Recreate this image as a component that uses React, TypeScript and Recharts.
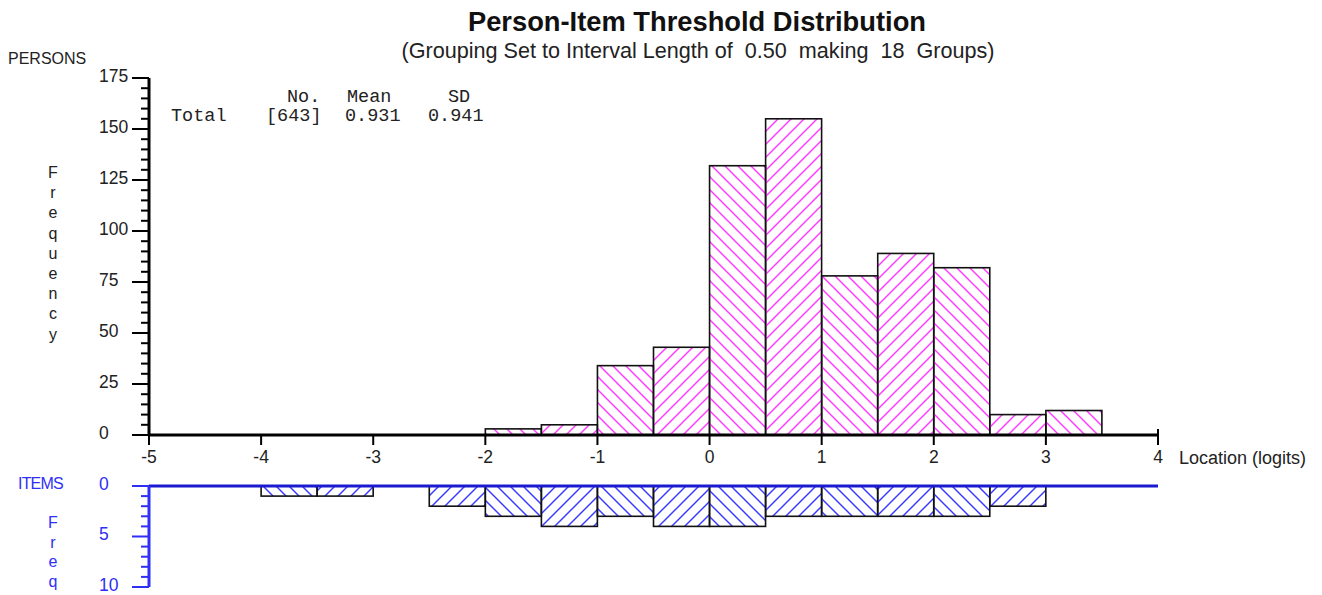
import React from 'react';
import { ComposedChart, Bar, XAxis, YAxis, ReferenceLine } from 'recharts';

// Interval groups (lower bound of each 0.50-logit bin)
const binStarts = ['-5.0', '-4.5', '-4.0', '-3.5', '-3.0', '-2.5', '-2.0', '-1.5', '-1.0', '-0.5', '0.0', '0.5', '1.0', '1.5', '2.0', '2.5', '3.0', '3.5'];
// Person frequencies per group
const personCounts = [0, 0, 0, 0, 0, 0, 3, 5, 34, 43, 132, 155, 78, 89, 82, 10, 12, 0];
// Item threshold frequencies per group
const itemCounts = [0, 0, 1, 1, 0, 2, 3, 4, 3, 4, 4, 3, 3, 3, 3, 2, 0, 0];

const locationTicks = [-5, -4, -3, -2, -1, 0, 1, 2, 3, 4];
const personTicks = [0, 5, 10, 15, 20, 25, 30, 35, 40, 45, 50, 55, 60, 65, 70, 75, 80, 85, 90, 95, 100, 105, 110, 115, 120, 125, 130, 135, 140, 145, 150, 155, 160, 165, 170, 175];
const personLabels = [0, 25, 50, 75, 100, 125, 150, 175];
const itemTicks = [0, 1, 2, 3, 4, 5, 6, 7, 8, 9, 10];
const itemLabels = [0, 5, 10];

const statHeaders = ['No.', 'Mean', 'SD'];
const statValues = ['Total', '[643]', '0.931', '0.941'];

const rows = binStarts.map((bin, i) => ({ bin, lo: Number(bin), persons: personCounts[i], items: itemCounts[i] }));

const SANS = '"Liberation Sans", Arial, sans-serif';
const MONO = '"Liberation Mono", "Courier New", monospace';
const BLUE = '#2f2ff5';
const PINK = '#ff3cff';
const HATCH_BLUE = '#3c3cff';

const hatchBar = (prefix: string) => (props: any) => {
  const { x, y, width, height, index, value } = props;
  const v = Array.isArray(value) ? value[1] - value[0] : value;
  if (!v) return null;
  const top = Math.min(y, y + height);
  const h = Math.abs(height);
  const id = index % 2 === 0 ? `${prefix}Back` : `${prefix}Fwd`;
  return (
    <g>
      <rect x={x} y={top} width={width} height={h} fill={`url(#${id})`} />
      <rect x={x} y={top} width={width} height={h} fill="none" stroke="#111" strokeWidth={1.6} />
    </g>
  );
};

const makeYTick = (labels: number[], color: string) => (props: any) => {
  const { x, y, payload } = props;
  const v = payload.value;
  const major = labels.includes(v);
  return (
    <g>
      <line x1={x - (major ? 17 : 8)} x2={x} y1={y} y2={y} stroke={color} strokeWidth={2} />
      {major && (
        <text x={x - 50} y={y} dy="0.22em" fontSize={17.5} fontFamily={SANS} fill={color === '#000' ? '#222' : color}>
          {v}
        </text>
      )}
    </g>
  );
};

const LocTick = (props: any) => {
  const { x, y, payload } = props;
  return (
    <g>
      <line x1={x} x2={x} y1={payload.value === 4 ? y - 6 : y} y2={y + 10} stroke="#000" strokeWidth={2} />
      <text x={x} y={y + 22} dy="0.35em" textAnchor="middle" fontSize={17.5} fontFamily={SANS} fill="#222">
        {payload.value}
      </text>
    </g>
  );
};

const hatchPattern = (id: string, color: string, forward: boolean) => (
  <pattern id={id} patternUnits="userSpaceOnUse" width={13} height={13}>
    {forward ? (
      <path d="M0,13 L13,0 M-3,3 L3,-3 M10,16 L16,10" stroke={color} strokeWidth={1.5} />
    ) : (
      <path d="M0,0 L13,13 M-3,10 L3,16 M10,-3 L16,3" stroke={color} strokeWidth={1.5} />
    )}
  </pattern>
);

const vertical = (word: string, x: number, y0: number, step: number, color: string) =>
  word.split('').map((ch, i) => (
    <text key={i} x={x} y={y0 + i * step} textAnchor="middle" fontSize={16} fontFamily={SANS} fill={color}>
      {ch}
    </text>
  ));

export default function App() {
  return (
    <div style={{ position: 'absolute', left: 0, top: 0, width: 1322, height: 595, background: '#fff' }}>
      <svg width={1322} height={595} style={{ position: 'absolute', left: 0, top: 0 }}>
        <defs>
          {hatchPattern('pinkBack', PINK, false)}
          {hatchPattern('pinkFwd', PINK, true)}
          {hatchPattern('blueBack', HATCH_BLUE, false)}
          {hatchPattern('blueFwd', HATCH_BLUE, true)}
        </defs>
        <text x={697} y={31} textAnchor="middle" fontSize={27.3} fontWeight="bold" fontFamily={SANS} fill="#111">
          Person-Item Threshold Distribution
        </text>
        <text x={698} y={58} textAnchor="middle" fontSize={21.6} fontFamily={SANS} fill="#222" style={{ whiteSpace: 'pre' }}>
          {'(Grouping Set to Interval Length of  0.50  making  18  Groups)'}
        </text>
        <text x={8} y={64} fontSize={16} fontFamily={SANS} fill="#222">PERSONS</text>
        {vertical('Frequency', 53, 178, 20.2, '#222')}
        <text x={1179} y={464} fontSize={18} fontFamily={SANS} fill="#222">Location (logits)</text>
        <text x={18} y={489} fontSize={16} fontFamily={SANS} fill={BLUE} letterSpacing={-0.8}>ITEMS</text>
        {vertical('Freq', 53, 528, 19.5, BLUE)}
        {[287, 347, 448].map((x, i) => (
          <text key={i} x={x} y={102} fontSize={18.5} fontFamily={MONO} fill="#222">{statHeaders[i]}</text>
        ))}
        {[171, 266, 345, 428].map((x, i) => (
          <text key={i} x={x} y={121} fontSize={18.5} fontFamily={MONO} fill="#222">{statValues[i]}</text>
        ))}
      </svg>

      <div style={{ position: 'absolute', left: 0, top: 0 }}>
        <ComposedChart width={1322} height={470} data={rows} barCategoryGap={0} barGap={0}
          margin={{ top: 78, right: 164, bottom: 0, left: 99 }}>
          <XAxis xAxisId="bin" dataKey="bin" type="category" hide height={0} padding={{ left: 0, right: 0 }} />
          <XAxis xAxisId="loc" dataKey="lo" type="number" domain={[-5, 4]} ticks={locationTicks} allowDataOverflow
            interval={0} height={35} tickSize={0} tickMargin={0} tickLine={false}
            axisLine={{ stroke: '#000', strokeWidth: 3 }} tick={<LocTick />} />
          <YAxis type="number" domain={[0, 175]} ticks={personTicks} allowDataOverflow interval={0}
            width={50} tickSize={0} tickMargin={0} tickLine={false}
            axisLine={{ stroke: '#000', strokeWidth: 3 }} tick={makeYTick(personLabels, '#000')} />
          <Bar xAxisId="bin" dataKey="persons" isAnimationActive={false} shape={hatchBar('pink')} />
        </ComposedChart>
      </div>

      <div style={{ position: 'absolute', left: 0, top: 470 }}>
        <ComposedChart width={1322} height={125} data={rows} barCategoryGap={0} barGap={0}
          margin={{ top: 16, right: 164, bottom: 8, left: 99 }}>
          <XAxis xAxisId="bin" dataKey="bin" type="category" hide height={0} padding={{ left: 0, right: 0 }} />
          <XAxis xAxisId="loc" dataKey="lo" type="number" domain={[-5, 4]} allowDataOverflow hide height={0} />
          <YAxis type="number" reversed domain={[0, 10]} ticks={itemTicks} allowDataOverflow interval={0}
            width={50} tickSize={0} tickMargin={0} tickLine={false}
            axisLine={{ stroke: BLUE, strokeWidth: 3 }} tick={makeYTick(itemLabels, BLUE)} />
          <Bar xAxisId="bin" dataKey="items" isAnimationActive={false} shape={hatchBar('blue')} />
          <ReferenceLine xAxisId="loc" y={0} stroke="#1a1ad0" strokeWidth={3} ifOverflow="visible" />
        </ComposedChart>
      </div>
    </div>
  );
}
